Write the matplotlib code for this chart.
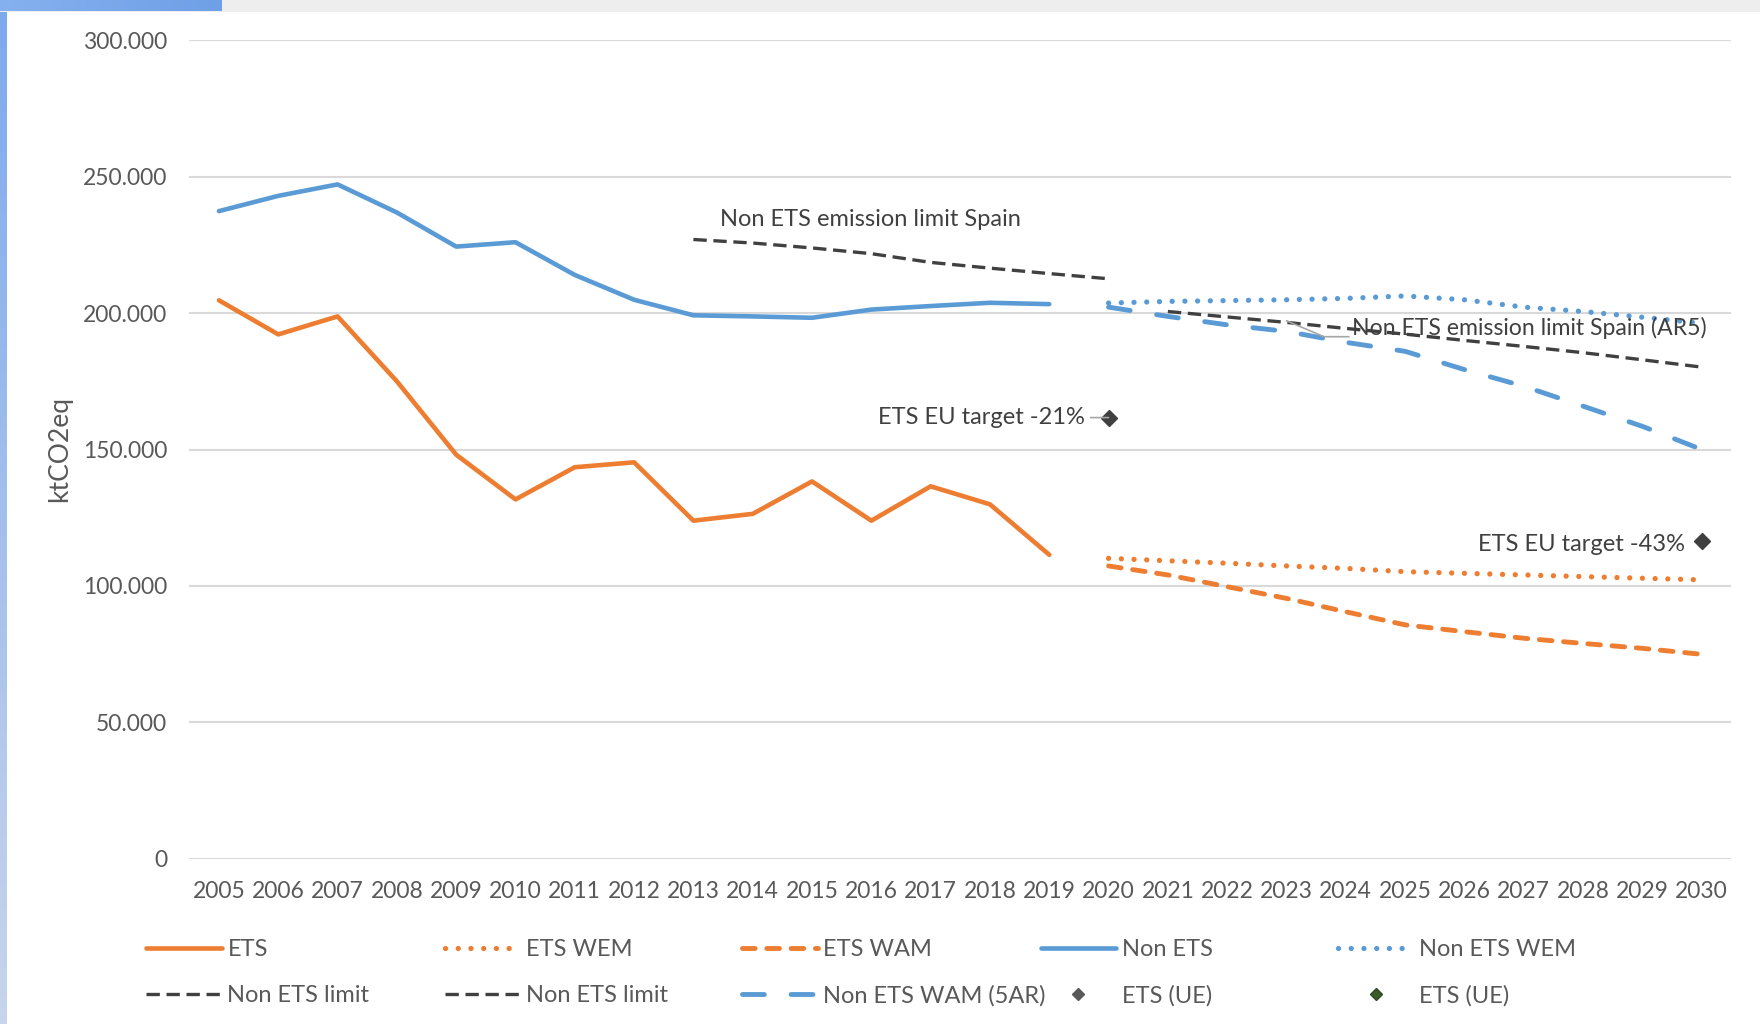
import numpy as np
import matplotlib
matplotlib.use("Agg")
import matplotlib.pyplot as plt
from matplotlib.lines import Line2D
from matplotlib.ticker import FuncFormatter

plt.rcParams['font.family'] = ['Lato', 'DejaVu Sans']

# data, ktCO2eq
hist_years = list(range(2005, 2020))
ets = [204700, 192200, 198800, 175000, 148100, 131700, 143500, 145300,
       123900, 126400, 138300, 123900, 136500, 129900, 111400]
non_ets = [237400, 243000, 247200, 236900, 224400, 226000, 214000, 204900,
           199200, 198800, 198300, 201300, 202600, 203800, 203300]

proj_years = list(range(2020, 2031))
ets_wem = [110100, 109200, 108300, 107300, 106400, 105200, 104600, 104000, 103400, 102800, 102200]
ets_wam = [107300, 104000, 99700, 95400, 90500, 85700, 83200, 80800, 78900, 77100, 74900]
non_ets_wem = [203700, 204300, 204600, 204900, 205400, 206300, 204900, 202200, 200600, 198500, 196300]
non_ets_wam = [202200, 198800, 195700, 193300, 189300, 186000, 179300, 173200, 165900, 158500, 150000]

limit_years = list(range(2013, 2021))
non_ets_limit = [227000, 225700, 223900, 221800, 218600, 216500, 214500, 212600]
ar5_years = list(range(2021, 2031))
non_ets_limit_ar5 = [200600, 198600, 196600, 194400, 192300, 190000, 187800, 185500, 182900, 180200]

ets_ue_1 = ([2020], [161700])
ets_ue_2 = ([2030], [116300])

x_labels = [str(y) for y in range(2005, 2031)]

ORANGE = '#ED7D31'
BLUE = '#5B9BD5'
DARK = '#404040'
GREY = '#595959'

fig = plt.figure(figsize=(17.6, 10.24), dpi=100)

# decorations of the slide frame
grad = fig.add_axes([0, 0, 6 / 1760, 1])
grad.imshow(np.linspace(0, 1, 256).reshape(-1, 1), aspect='auto',
            cmap=matplotlib.colors.LinearSegmentedColormap.from_list('g', ['#7ea9ee', '#c8d5ea']))
grad.axis('off')
bar = fig.add_axes([0, 1 - 11.5 / 1024, 1, 11.5 / 1024])
bar.add_patch(plt.Rectangle((0, 0), 1, 1, color='#eeeeee', zorder=0))
bar.imshow(np.linspace(0, 1, 256).reshape(1, -1), aspect='auto', extent=(0, 221 / 1760, 0, 1), zorder=1,
           cmap=matplotlib.colors.LinearSegmentedColormap.from_list('h', ['#86b1f0', '#6f9fe6']))
bar.set_xlim(0, 1)
bar.set_ylim(0, 1)
bar.axis('off')

ax = fig.add_axes([189.3 / 1760, 1 - 858.6 / 1024, 1542 / 1760, 818.2 / 1024])
ax.set_xlim(2004.5, 2030.5)
ax.set_ylim(0, 300000)

lw = 3.3
dot = (0, (0.01, 2.4))
ax.plot(hist_years, ets, color=ORANGE, lw=lw, solid_capstyle='round', solid_joinstyle='round', label='ETS')
ax.plot(proj_years, ets_wem, color=ORANGE, lw=3.8, ls=dot, dash_capstyle='round', label='ETS WEM')
ax.plot(proj_years, ets_wam, color=ORANGE, lw=3.5, ls=(0, (2.6, 2.4)), dash_capstyle='round', label='ETS WAM')
ax.plot(hist_years, non_ets, color=BLUE, lw=lw, solid_capstyle='round', solid_joinstyle='round', label='Non ETS')
ax.plot(proj_years, non_ets_wem, color=BLUE, lw=3.8, ls=dot, dash_capstyle='round', label='Non ETS WEM')
ax.plot(limit_years, non_ets_limit, color=DARK, lw=2.4, ls=(0, (4, 2)), label='Non ETS limit')
ax.plot(ar5_years, non_ets_limit_ar5, color=DARK, lw=2.4, ls=(0, (4, 2)), label='Non ETS limit')
ax.plot(proj_years, non_ets_wam, color=BLUE, lw=3.5, ls=(0, (4.5, 5.5)), dash_capstyle='round', label='Non ETS WAM (5AR)')
ax.plot(*ets_ue_1, ls='none', marker='D', ms=8.5, color=DARK, label='ETS (UE)')
ax.plot(*ets_ue_2, ls='none', marker='D', ms=8.5, color=DARK, label='ETS (UE)')

# grid and axes
ax.set_yticks(range(0, 300001, 50000))
ax.yaxis.set_major_formatter(FuncFormatter(lambda v, p: f"{int(v):,}".replace(',', '.')))
ax.set_xticks(range(2005, 2031))
ax.set_xticklabels(x_labels)
ax.grid(axis='y', color='#d9d9d9', lw=1.5)
ax.set_axisbelow(True)
for s in ax.spines.values():
    s.set_visible(False)
ax.tick_params(axis='both', length=0, labelsize=16.5, labelcolor=GREY)
ax.tick_params(axis='x', pad=16)
ax.tick_params(axis='y', pad=16)
ax.set_ylabel('ktCO2eq', fontsize=19, color=GREY)
ax.yaxis.set_label_coords(-0.076, 0.5)

# labels on the chart
ax.text(2015.98, 234200, 'Non ETS emission limit Spain', fontsize=17, color=DARK, ha='center', va='center')
ax.annotate('ETS EU target -21%', xy=(2020, 161700), xytext=(-17, 0), textcoords='offset points',
            fontsize=17, color=DARK, ha='right', va='center',
            arrowprops=dict(arrowstyle='-', color='#a6a6a6', lw=1.2, shrinkA=2, shrinkB=0))
ax.annotate('ETS EU target -43%', xy=(2030, 116300), xytext=(-12, -2), textcoords='offset points',
            fontsize=17, color=DARK, ha='right', va='center')
ax.annotate('Non ETS emission limit Spain (AR5)', xy=(2023.0, 197200), xytext=(2024.1, 194600),
            fontsize=16.6, color=DARK, ha='left', va='center',
            arrowprops=dict(arrowstyle='-', color='#a6a6a6', lw=1.2, shrinkA=0, shrinkB=0,
                            relpos=(0, 0.1), connectionstyle='angle,angleA=0,angleB=-23,rad=0'))

# legend, one block per column
h, l = ax.get_legend_handles_labels()
h[8] = Line2D([], [], ls='none', marker='D', ms=6.5, color=GREY)
h[9] = Line2D([], [], ls='none', marker='D', ms=6.5, color='#3b5a2a', markeredgecolor='#2f4a22')
cols = [(0, 5), (1, 6), (2, 7), (3, 8), (4, 9)]
col_x = [146, 444.5, 742, 1040.5, 1338]
for (a, b), x in zip(cols, col_x):
    fig.legend([h[a], h[b]], [l[a], l[b]], loc='upper left',
               bbox_to_anchor=(x / 1760, 1 - 939 / 1024), frameon=False,
               fontsize=17, labelcolor=GREY, handlelength=3.2, handletextpad=0.25,
               borderpad=0, borderaxespad=0, labelspacing=1.05)

fig.savefig('out.png', dpi=100, facecolor='white')
